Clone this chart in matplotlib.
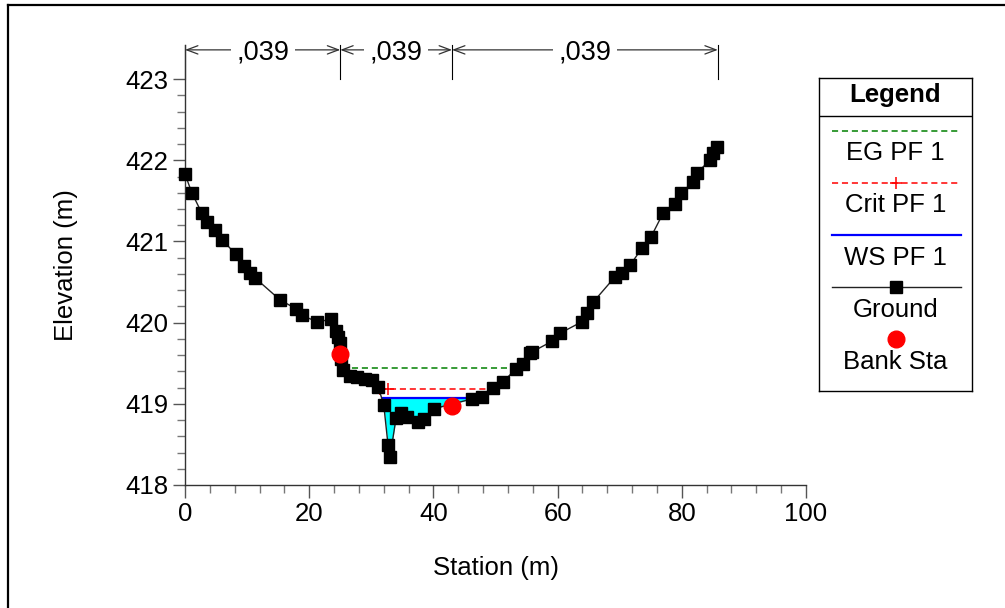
import numpy as np
import matplotlib
matplotlib.use('Agg')
import matplotlib.pyplot as plt
from matplotlib.lines import Line2D

plt.rcParams['font.family'] = ['Liberation Sans', 'DejaVu Sans']

# Ground profile (station m, elevation m)
ground_sta = [0.0, 1.1, 2.7, 3.5, 4.8, 6.0, 8.2, 9.5, 10.5, 11.3, 15.3, 17.9,
              18.8, 21.3, 23.5, 24.3, 24.6, 25.0, 25.1, 25.4, 26.6, 27.7, 29.0,
              30.1, 31.1, 32.0, 32.7, 33.0, 34.0, 34.8, 35.7, 37.5, 38.5, 40.1,
              46.2, 47.8, 49.6, 51.2, 53.3, 54.4, 55.6, 55.9, 59.1, 60.4, 63.9,
              64.7, 65.7, 69.2, 70.4, 71.7, 73.6, 75.0, 77.0, 78.9, 79.9, 81.8,
              82.4, 84.5, 85.0, 85.7]
ground_elev = [421.83, 421.60, 421.35, 421.24, 421.14, 421.02, 420.84, 420.70,
               420.61, 420.55, 420.28, 420.17, 420.09, 420.01, 420.04, 419.90,
               419.82, 419.75, 419.55, 419.42, 419.34, 419.33, 419.31, 419.29,
               419.21, 418.99, 418.49, 418.34, 418.83, 418.89, 418.84, 418.78,
               418.81, 418.94, 419.06, 419.08, 419.19, 419.27, 419.43, 419.49,
               419.63, 419.64, 419.77, 419.87, 420.01, 420.12, 420.25, 420.56,
               420.61, 420.71, 420.92, 421.05, 421.35, 421.46, 421.60, 421.73,
               421.84, 422.00, 422.09, 422.16]

# Bank stations
bank_sta = [25.0, 43.0]
bank_elev = [419.61, 418.97]

# Profile 1 results
eg_sta = [25.3, 54.0]
eg_elev = 419.44
crit_sta = [31.4, 32.7, 49.6]
crit_elev = 419.18
ws_sta = [31.9, 46.7]
ws_elev = 419.075

# Manning's n breaks
n_breaks = [0.0, 25.0, 43.0, 85.8]
n_labels = [',039', ',039', ',039']

FS = 18.5

fig = plt.figure(figsize=(10.05, 6.08), dpi=100)
ax = fig.add_axes([185 / 1005, 1 - 485 / 608, 621 / 1005, 440 / 608])

gs = np.array(ground_sta)
ge = np.array(ground_elev)
ax.fill_between(gs, ge, ws_elev, where=ge < ws_elev, interpolate=True,
                color='#00FFFF', linewidth=0, zorder=1)
ax.plot(ws_sta, [ws_elev] * len(ws_sta), color='#0000FF', lw=1.6, zorder=2)
ax.plot(crit_sta, [crit_elev] * len(crit_sta), color='#FF0000', lw=1.1,
        ls=(0, (4, 2.5)), marker='+', ms=9, mew=1.1, zorder=2)
ax.plot(eg_sta, [eg_elev] * len(eg_sta), color='#008000', lw=1.1,
        ls=(0, (4, 2.5)), zorder=2)
ax.plot(gs, ge, color='#222222', lw=1.0, marker='s', ms=8,
        mfc='black', mec='black', zorder=3, clip_on=False)
ax.plot(bank_sta, bank_elev, ls='none', marker='o', ms=12, color='#FF0000',
        mec='#FF0000', zorder=4)

# n-value dimension lines
top = 423.42
arrow_y = 423.36
for b in n_breaks:
    ax.plot([b, b], [423.0, top], color='black', lw=0.8, clip_on=False)
for i, lab in enumerate(n_labels):
    x0, x1 = n_breaks[i], n_breaks[i + 1]
    ax.annotate('', xy=(x0, arrow_y), xytext=(x1, arrow_y),
                arrowprops=dict(arrowstyle='<->,head_length=0.8,head_width=0.3',
                                color='#333333', lw=0.9, shrinkA=0, shrinkB=0),
                annotation_clip=False)
    ax.text((x0 + x1) / 2, arrow_y - 0.03, lab, ha='center', va='center',
            fontsize=19.5,
            bbox=dict(facecolor='white', edgecolor='none', pad=4), zorder=5)

ax.set_xlim(0, 100)
ax.set_ylim(418, top)
ax.set_xticks(np.arange(0, 101, 20))
ax.set_xticks(np.arange(0, 101, 4), minor=True)
ax.set_yticks(np.arange(418, 423.1, 1))
ax.set_yticks(np.arange(418, 423.01, 0.2), minor=True)
ax.spines['top'].set_visible(False)
ax.spines['right'].set_visible(False)
for s in ['left', 'bottom']:
    ax.spines[s].set_color('#333333')
    ax.spines[s].set_linewidth(1.0)
ax.tick_params(which='major', length=9, width=1, color='#555555',
               labelsize=FS, pad=3)
ax.tick_params(which='minor', length=6, width=1, color='#777777')
ax.set_xlabel('Station (m)', fontsize=FS, labelpad=22)
ax.set_ylabel('Elevation (m)', fontsize=FS, labelpad=34)

# Legend box
lax = fig.add_axes([819 / 1005, 1 - 391 / 608, 153 / 1005, 313 / 608])
lax.set_xlim(0, 1)
lax.set_ylim(0, 1)
lax.set_xticks([])
lax.set_yticks([])
for s in lax.spines.values():
    s.set_linewidth(1.0)
lax.axhline(0.879, color='black', lw=1.0)
lax.text(0.5, 0.947, 'Legend', ha='center', va='center', fontsize=FS,
         fontweight='bold')
lx = [0.085, 0.928]
lax.plot(lx, [0.831, 0.831], color='#008000', lw=1.1, ls=(0, (4, 2.5)))
lax.text(0.5, 0.760, 'EG PF 1', ha='center', va='center', fontsize=FS)
lax.plot(lx, [0.665, 0.665], color='#FF0000', lw=1.1, ls=(0, (4, 2.5)))
lax.plot([0.5], [0.665], marker='+', ms=9, mew=1.1, color='#FF0000')
lax.text(0.5, 0.594, 'Crit PF 1', ha='center', va='center', fontsize=FS)
lax.plot(lx, [0.498, 0.498], color='#0000FF', lw=1.6)
lax.text(0.5, 0.425, 'WS PF 1', ha='center', va='center', fontsize=FS)
lax.plot(lx, [0.332, 0.332], color='#222222', lw=1.0)
lax.plot([0.5], [0.332], marker='s', ms=8, color='black')
lax.text(0.5, 0.259, 'Ground', ha='center', va='center', fontsize=FS)
lax.plot([0.5], [0.166], marker='o', ms=12, color='#FF0000')
lax.text(0.5, 0.093, 'Bank Sta', ha='center', va='center', fontsize=FS)

# outer frame (left and top edges visible)
fig.add_artist(Line2D([8 / 1005, 8 / 1005], [0, 1 - 5 / 608], color='black',
                      lw=1.6, transform=fig.transFigure))
fig.add_artist(Line2D([8 / 1005, 1], [1 - 5 / 608, 1 - 5 / 608], color='black',
                      lw=1.6, transform=fig.transFigure))

fig.savefig('out.png', dpi=100)
